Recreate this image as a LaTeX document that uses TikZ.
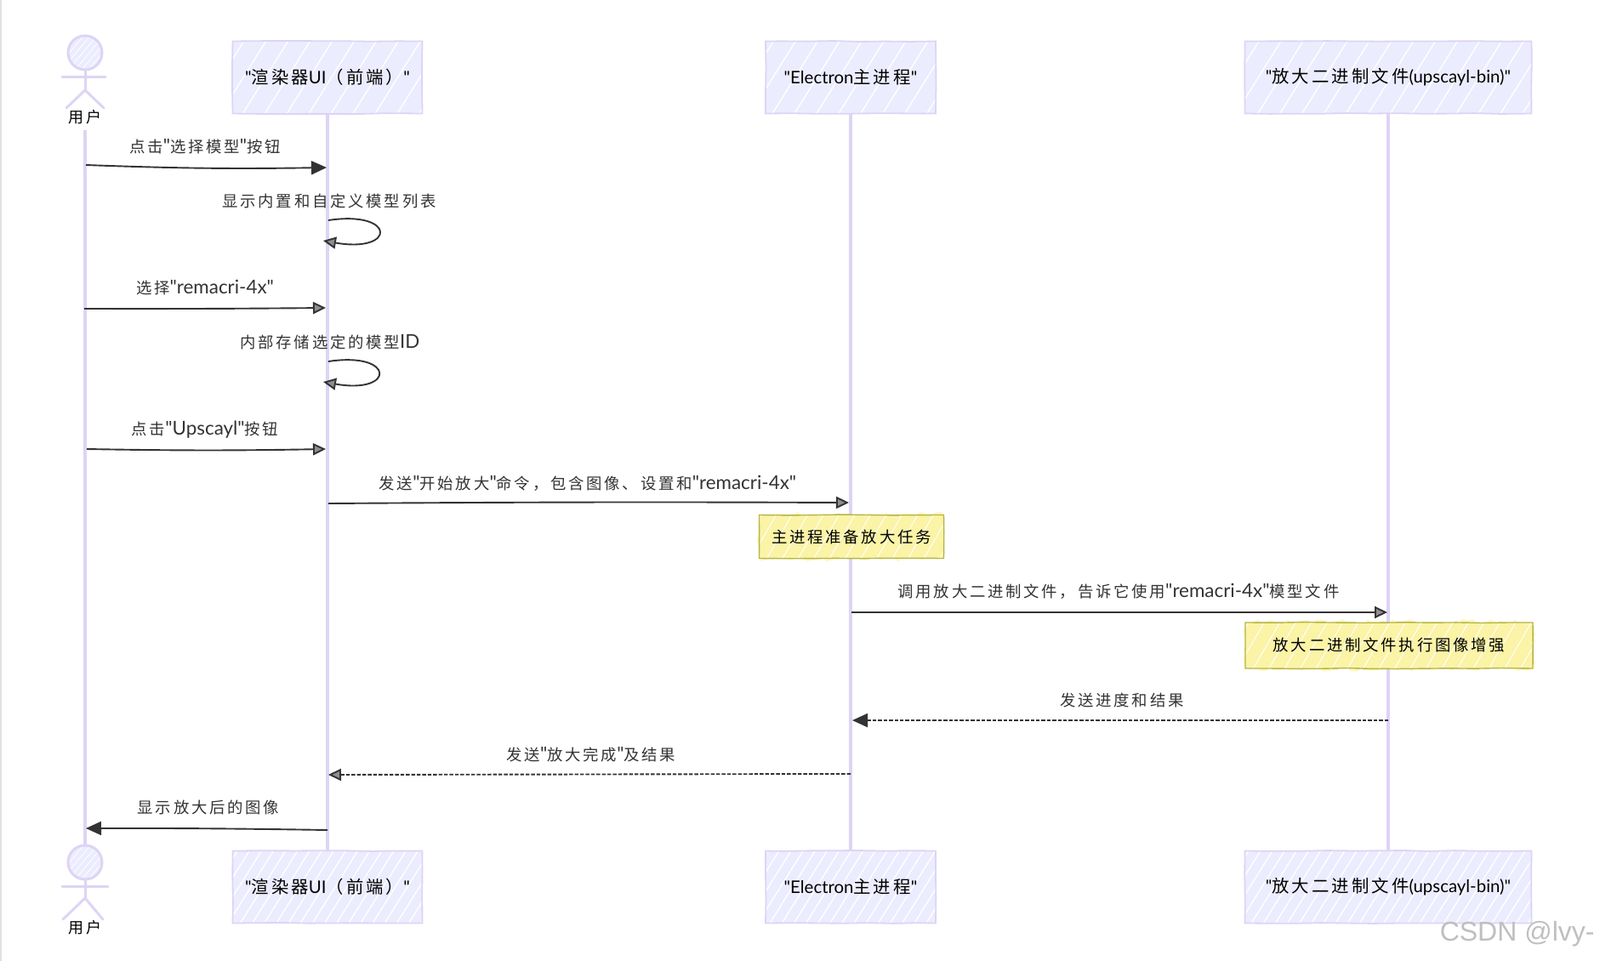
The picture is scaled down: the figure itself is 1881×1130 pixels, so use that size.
\documentclass[tikz,border=0pt]{standalone}
\usepackage{fontspec}
\newfontfamily\lat{Lato}
\newfontfamily\wmfont{Liberation Sans}
\newfontfamily\cj[LetterSpace=15]{Noto Sans CJK SC}
\newcommand{\zh}[1]{{\cj #1}}
\newcommand{\la}[1]{{\lat\fontsize{11.2}{13}\selectfont #1}}
\usetikzlibrary{arrows.meta,patterns.meta,decorations.pathmorphing,backgrounds}
\definecolor{life}{HTML}{DDD4F5}
\definecolor{boxfill}{HTML}{ECECFF}
\definecolor{notefill}{HTML}{FBF3A6}
\definecolor{noteline}{HTML}{B5B544}
\definecolor{ink}{HTML}{333333}
\tikzset{
  x=0.5pt,y=-0.5pt,
  rough/.style={decorate,decoration={random steps,segment length=15pt,amplitude=0.25pt}},
  actorbox/.style={minimum height=42.5pt,inner sep=0pt,text=black,font=\lat\fontsize{10.2}{12}\selectfont,
    fill=boxfill,
    postaction={pattern={Lines[angle=58,distance=#1,line width=0.7pt]},pattern color=white},
    postaction={draw=life,line width=0.9pt,rough}},
  actorbox/.default=7pt,
  notebox/.style={inner sep=0pt,text=black,font=\lat\fontsize{9.2}{12}\selectfont,
    preaction={fill=notefill!70!white,decorate,decoration={random steps,segment length=3pt,amplitude=2pt}},
    fill=notefill,
    postaction={pattern={Lines[angle=60,distance=8pt,line width=0.5pt]},pattern color=white},
    postaction={draw=noteline,line width=0.7pt,rough}},
  head/.style={circle,minimum size=20pt,inner sep=0pt,fill=boxfill,
    postaction={pattern={Lines[angle=50,distance=3pt,line width=0.4pt]},pattern color=white},
    postaction={draw=life,line width=1.5pt}},
  stick/.style={draw=life,line width=1.5pt,line cap=round},
  lifeline/.style={draw=life,line width=#1},
  lifeline/.default=1.6pt,
  msglabel/.style={text=ink,font=\lat\fontsize{9.2}{11}\selectfont,inner sep=0pt},
  actorlabel/.style={text=black,font=\lat\fontsize{9}{11}\selectfont,inner sep=0pt},
  msg/.style={draw=ink,line width=0.95pt},
  tipdark/.style={-{Triangle[length=9pt,width=8pt,fill=ink]}},
  tiplight/.style={-{Triangle[length=7.5pt,width=7pt,fill=ink!55!white]}},
  ret/.style={dash pattern=on 2.2pt off 1pt}
}
\begin{document}
\begin{tikzpicture}
\useasboundingbox (0,0) rectangle (1881,1130);
\fill[black!12] (0,0) rectangle (2,1130);

% participants
\node[actorbox=11pt,minimum width=111.5pt] (r1) at (385,91) {"\zh{渲染器}UI\zh{（前端）}"};
\node[actorbox=11pt,minimum width=100pt] (e1) at (1000,91) {"Electron\zh{主进程}"};
\node[actorbox=11pt,minimum width=168.5pt] (b1) at (1632,91) {"\zh{放大二进制文件}(upscayl-bin)"};
\node[actorbox=6pt,minimum width=111.5pt] (r2) at (385,1043) {"\zh{渲染器}UI\zh{（前端）}"};
\node[actorbox=6pt,minimum width=100pt] (e2) at (1000,1043) {"Electron\zh{主进程}"};
\node[actorbox=6pt,minimum width=168.5pt] (b2) at (1632,1043) {"\zh{放大二进制文件}(upscayl-bin)"};

% actors
\node[head] (h1) at (100,62) {};
\coordinate (s1l) at (73,90); \coordinate (s1r) at (124,90);
\coordinate (w1) at (100,106);
\coordinate (l1l) at (78,127); \coordinate (l1r) at (122,127);
\draw[stick] (s1l) -- (s1r);
\draw[stick] (h1) -- (w1);
\draw[stick] (l1l) -- (w1) -- (l1r);
\node[actorlabel] (u1) at (100,138) {\zh{用户}};

\node[head] (h2) at (100,1014) {};
\coordinate (s2l) at (73,1042); \coordinate (s2r) at (127,1042);
\coordinate (w2) at (100,1056);
\coordinate (l2l) at (74,1081); \coordinate (l2r) at (121,1081);
\draw[stick] (s2l) -- (s2r);
\draw[stick] (h2) -- (w2);
\draw[stick] (l2l) -- (w2) -- (l2r);
\node[actorlabel] (u2) at (100,1091) {\zh{用户}};

% notes
\node[notebox,minimum width=108.5pt,minimum height=25.5pt] (n1box) at (1001,631) {\zh{主进程准备放大任务}};
\node[notebox,minimum width=169pt,minimum height=27pt] (n2box) at (1633,759) {\zh{放大二进制文件执行图像增强}};

% lifelines
\begin{scope}[on background layer]
\draw[lifeline=1.7pt] (u1.south) ++(0,6) -- (h2.north);
\draw[lifeline] (r1.south) -- (r2.north);
\draw[lifeline] (e1.south) -- (e2.north);
\draw[lifeline=1.9pt] (b1.south) -- (b2.north);
\end{scope}

% message anchors
\coordinate (a1) at (101,194); \coordinate (b1m) at (384,197);
\coordinate (a2) at (386,259); \coordinate (b2m) at (380,283);
\coordinate (a3) at (99,363);  \coordinate (b3m) at (383,362);
\coordinate (a4) at (386,425); \coordinate (b4m) at (380,449);
\coordinate (a5) at (102,528); \coordinate (b5m) at (383,528);
\coordinate (a6) at (386,592); \coordinate (b6m) at (998,591);
\coordinate (a7) at (1001,720); \coordinate (b7m) at (1631,720);
\coordinate (a8) at (1632,847); \coordinate (b8m) at (1002,847);
\coordinate (a9) at (1000,910); \coordinate (b9m) at (386,911);
\coordinate (a10) at (385,976); \coordinate (b10m) at (101,974);

% messages
\draw[msg,tipdark] (a1) to[bend right=1.5] (b1m);
\draw[msg,tiplight] (a2) .. controls (466,247) and (466,298) .. (b2m);
\draw[msg,tiplight] (a3) to[bend right=0.3] (b3m);
\draw[msg,tiplight] (a4) .. controls (465,413) and (465,464) .. (b4m);
\draw[msg,tiplight] (a5) to[bend right=1] (b5m);
\draw[msg,tiplight] (a6) to[bend left=0.3] (b6m);
\draw[msg,tiplight] (a7) -- (b7m);
\draw[msg,ret,tipdark] (a8) -- (b8m);
\draw[msg,ret,tiplight] (a9) -- (b9m);
\draw[msg,tipdark] (a10) to[bend right=0.5] (b10m);

% labels
\node[msglabel] (t1) at (241,172) {\zh{点击}\la{"}\zh{选择模型}\la{"}\zh{按钮}};
\node[msglabel] (t2) at (387,236) {\zh{显示内置和自定义模型列表}};
\node[msglabel] (t3) at (241,338) {\zh{选择}\la{"remacri-4x"}};
\node[msglabel] (t4) at (388,402) {\zh{内部存储选定的模型}\la{ID}};
\node[msglabel] (t5) at (241,505) {\zh{点击}\la{"Upscayl"}\zh{按钮}};
\node[msglabel] (t6) at (691,568) {\zh{发送}\la{"}\zh{开始放大}\la{"}\zh{命令，包含图像、设置和}\la{"remacri-4x"}};
\node[msglabel] (t7) at (1315,695) {\zh{调用放大二进制文件，告诉它使用}\la{"remacri-4x"}\zh{模型文件}};
\node[msglabel] (t8) at (1319,823) {\zh{发送进度和结果}};
\node[msglabel] (t9) at (695,887) {\zh{发送}\la{"}\zh{放大完成}\la{"}\zh{及结果}};
\node[msglabel] (t10) at (245,949) {\zh{显示放大后的图像}};

% watermark
\node[anchor=east,inner sep=0pt,text=black!25,font=\wmfont\fontsize{16}{20}\selectfont] (wm) at (1875,1098) {CSDN @lvy-};
\end{tikzpicture}
\end{document}
